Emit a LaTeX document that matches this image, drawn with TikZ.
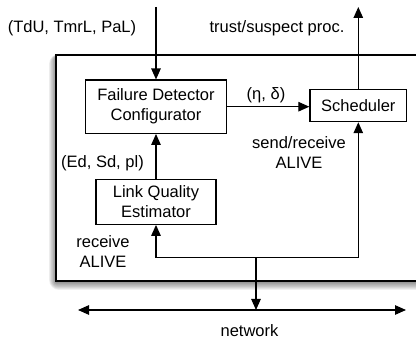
\documentclass[tikz,border=0pt]{standalone}
\usepackage{fontspec}
\setmainfont{Liberation Sans}
\usetikzlibrary{arrows.meta}
\begin{document}
\begin{tikzpicture}[x=1pt,y=-1pt,line width=1.2pt,
  >={Triangle[length=11pt,width=9.5pt]},
  font=\fontsize{16.5}{20}\selectfont,
  box/.style={draw,fill=white,align=center,inner sep=0pt},
  lbl/.style={align=center,inner sep=0pt}]
\useasboundingbox (0,0) rectangle (416,339);
\begin{scope}
  \clip (0,0) rectangle (416,339);
  \foreach \i in {1,...,10}{
    \fill[black,opacity=0.05,rounded corners=\i pt] (56-0.7*\i,57-0.3*\i) rectangle (440+\i,282+0.8*\i);
  }
  \fill[white] (56,55) rectangle (440,281);
  \draw (56,55) rectangle (440,281);
\end{scope}
% nodes
\node[box,minimum width=141.7pt,minimum height=53.3pt] (fdc) at (156,106.7) {Failure Detector\\Configurator};
\node[box,minimum width=96.7pt,minimum height=32.3pt] (sch) at (358.3,105.5) {Scheduler};
\node[box,minimum width=120pt,minimum height=45pt] (lqe) at (156,201.8) {Link Quality\\Estimator};
% labels
\node[lbl] (lin) at (72,28) {(TdU, TmrL, PaL)};
\node[lbl] (lout) at (277,28) {trust/suspect proc.};
\node[lbl] (leta) at (266,95.5) {(η, δ)};
\node[lbl] (lsr) at (299,153) {send/receive\\ALIVE};
\node[lbl] (led) at (102.5,163) {(Ed, Sd, pl)};
\node[lbl] (lrcv) at (103,251.7) {receive\\ALIVE};
\node[lbl] (lnet) at (249.5,330.5) {network};
% coordinates
\coordinate (in) at (156,7);
\coordinate (out) at (358.3,7);
\coordinate (bus) at (256,257.3);
\coordinate (netc) at (256,310);
\coordinate (nl) at (78,310);
\coordinate (nr) at (406,310);
% connectors
\draw[->] (in) -- (fdc.north);
\draw[->] (sch.north) -- (out);
\draw[->] (fdc.east) -- (fdc.east -| sch.west);
\draw[->] (lqe.north) -- (fdc.south);
\draw[<->] (lqe.south) |- (bus) -| (sch.south);
\draw[->] (bus) -- (netc);
\draw[<->] (nl) -- (nr);
\end{tikzpicture}
\end{document}
